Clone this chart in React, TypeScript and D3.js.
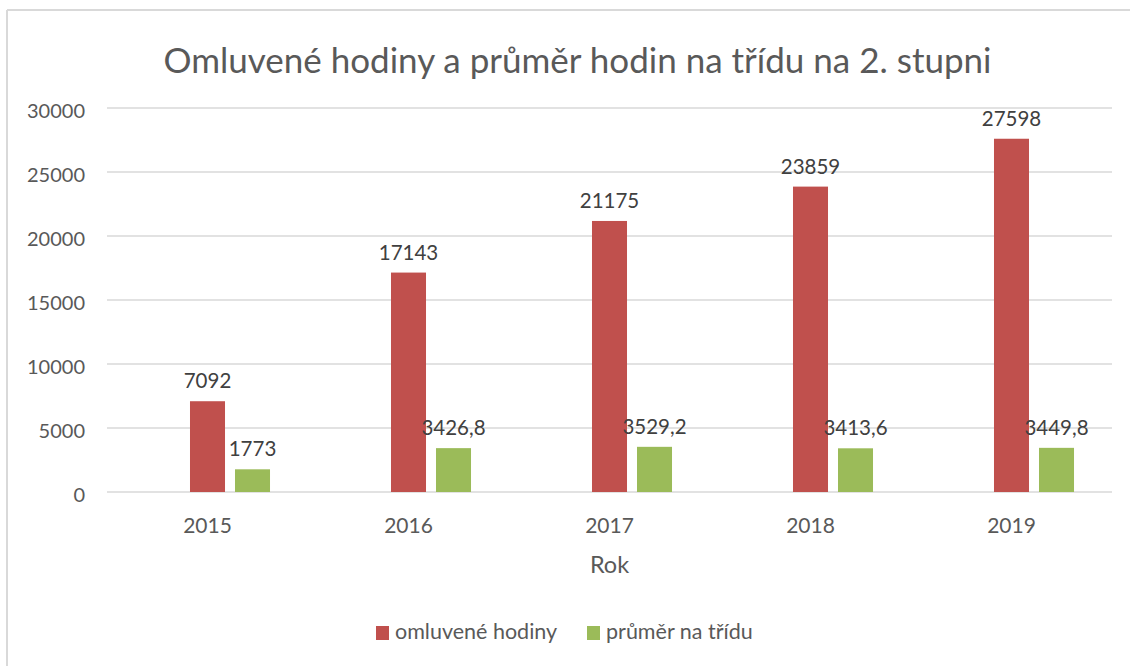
import React from "react";
import * as d3 from "d3";

const title = "Omluvené hodiny a průměr hodin na třídu na 2. stupni";
const years = ["2015", "2016", "2017", "2018", "2019"];
const seriesNames = ["omluvené hodiny", "průměr na třídu"];
const omluveneHodiny = [7092, 17143, 21175, 23859, 27598];
const prumerNaTridu = [1773, 3426.8, 3529.2, 3413.6, 3449.8];
const seriesColors = ["#C0504D", "#9BBB59"];
const yTicks = [0, 5000, 10000, 15000, 20000, 25000, 30000];
const xAxisTitle = "Rok";
// Excel cluster has an empty leading slot (hidden series)
const slots = ["_empty", "omluvené hodiny", "průměr na třídu"];

const W = 1130;
const H = 666;
const FONT = "Lato, 'Open Sans', sans-serif";

export default function App() {
  const left = 107;
  const right = 1112;
  const top = 108;
  const bottom = 492;

  const x = d3.scaleBand<string>().domain(years).range([left, right]).padding(0);
  const bw = x.bandwidth();
  const inner = d3
    .scaleBand<string>()
    .domain(slots)
    .range([bw * 0.189, bw * 0.811])
    .paddingInner(0.222)
    .paddingOuter(0);
  const y = d3.scaleLinear().domain([0, 30000]).range([bottom, top]);

  const series = [omluveneHodiny, prumerNaTridu];
  const fmt = (v: number) => String(v).replace(".", ",");

  return (
    <svg width={W} height={H} style={{ position: "absolute", left: 0, top: 0, display: "block" }}>
      <rect x={0} y={0} width={W} height={H} fill="#fff" />
      <line x1={7} y1={10} x2={W} y2={10} stroke="#d9d9d9" strokeWidth={2} />
      <line x1={7} y1={10} x2={7} y2={H} stroke="#d9d9d9" strokeWidth={2} />
      <text x={577.5} y={73} textAnchor="middle" fontFamily={FONT} fontSize={35} fill="#595959">
        {title}
      </text>
      {yTicks.map((t) => (
        <g key={t}>
          <line x1={left} x2={right} y1={y(t)} y2={y(t)} stroke="#d9d9d9" strokeWidth={1.5} />
          <text
            x={85}
            y={y(t) + 4.5}
            textAnchor="end"
            dominantBaseline="middle"
            fontFamily={FONT}
            fontSize={20}
            fill="#595959"
          >
            {t}
          </text>
        </g>
      ))}
      {years.map((yr) => (
        <text
          key={yr}
          x={(x(yr) as number) + bw / 2}
          y={528}
          textAnchor="middle"
          dominantBaseline="middle"
          fontFamily={FONT}
          fontSize={21}
          fill="#595959"
        >
          {yr}
        </text>
      ))}
      <text
        x={(left + right) / 2}
        y={567}
        textAnchor="middle"
        dominantBaseline="middle"
        fontFamily={FONT}
        fontSize={23.5}
        fill="#595959"
      >
        {xAxisTitle}
      </text>
      {series.map((vals, si) =>
        years.map((yr, i) => {
          const bx = (x(yr) as number) + (inner(seriesNames[si]) as number);
          return (
            <rect
              key={`${si}-${i}`}
              x={bx}
              y={y(vals[i])}
              width={inner.bandwidth()}
              height={bottom - y(vals[i])}
              fill={seriesColors[si]}
            />
          );
        })
      )}
      {series.map((vals, si) =>
        years.map((yr, i) => {
          const bx = (x(yr) as number) + (inner(seriesNames[si]) as number);
          return (
            <text
              key={`l${si}-${i}`}
              x={bx + inner.bandwidth() / 2}
              y={y(vals[i]) - 13}
              textAnchor="middle"
              fontFamily={FONT}
              fontSize={20.5}
              fill="#404040"
            >
              {fmt(vals[i])}
            </text>
          );
        })
      )}
      {seriesNames.map((n, i) => {
        const lx = [376, 587][i];
        return (
          <g key={n}>
            <rect x={lx} y={626} width={13} height={14} fill={seriesColors[i]} />
            <text
              x={lx + 19}
              y={634}
              dominantBaseline="middle"
              fontFamily={FONT}
              fontSize={21.5}
              fill="#595959"
            >
              {n}
            </text>
          </g>
        );
      })}
    </svg>
  );
}
